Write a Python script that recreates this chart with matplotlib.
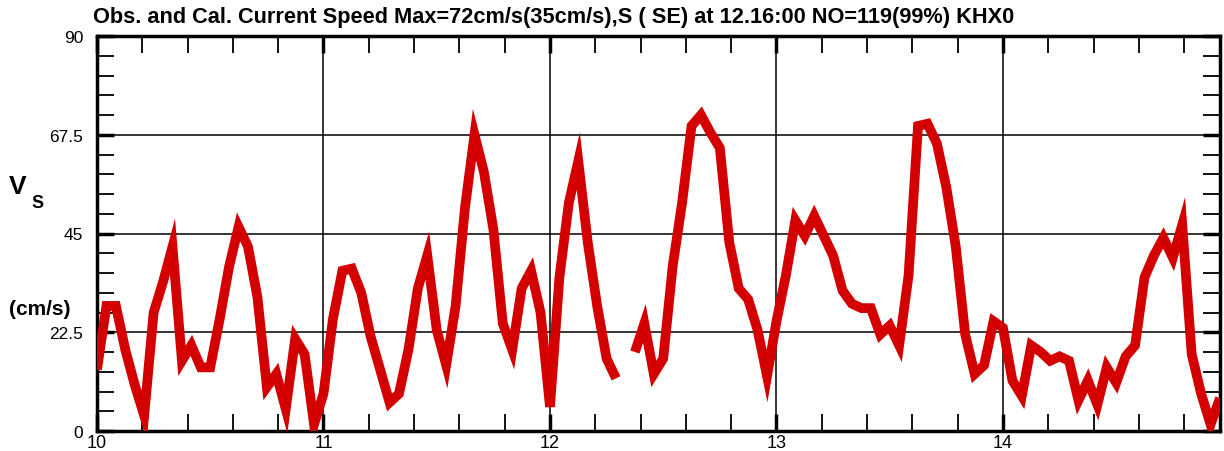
import numpy as np
import matplotlib
matplotlib.use("Agg")
import matplotlib.pyplot as plt
from matplotlib.ticker import MultipleLocator

plt.rcParams['font.family'] = ['Liberation Sans', 'DejaVu Sans']

# hourly current speed (cm/s), day 10 00:00 onward; nan = missing record
speed = [14, 28.5, 28.5, 18.5, 10.5, 3.5, 27, 34, 42, 16,
         19.5, 14.5, 14.5, 25.5, 37.5, 46.5, 42, 30.5, 10, 13,
         5, 21, 17.5, 1.5, 8.5, 25.5, 36.5, 37, 31.5, 21.5,
         14, 6.5, 8.5, 18.5, 32.5, 40, 23, 15, 28.5, 51,
         67.5, 59, 46, 24.5, 18.5, 32.5, 36.5, 27, 5.5, 35,
         52, 61.5, 43, 28.5, 16.5, 12, np.nan, 18, 24.5, 13,
         16.5, 37.5, 52, 69.5, 72, 68, 64.5, 43, 32.5, 30,
         23, 12.5, 25, 35.5, 48, 44.5, 49, 44.5, 40, 32,
         29, 28, 28, 22, 24, 19.5, 35.5, 69.5, 70, 65.5,
         55.5, 42, 22, 13, 15, 25, 23.5, 11.5, 8, 19.5,
         18, 16, 17, 16, 7, 11.5, 6, 14.5, 11, 17,
         19.5, 35, 40, 44, 39.5, 47, 17.5, 8.5, 1.5, 7.5]
start_day = 10
day = start_day + np.arange(len(speed)) / 24.0

yticks = [0, 22.5, 45, 67.5, 90]
ytick_labels = ['0', '22.5', '45', '67.5', '90']
xticks = [10, 11, 12, 13, 14]

title = "Obs. and Cal. Current Speed Max=72cm/s(35cm/s),S ( SE) at 12.16:00 NO=119(99%) KHX0"

fig = plt.figure(figsize=(12.24, 4.52), dpi=100)
ax = fig.add_axes([97/1224, 20/452, (1220-97)/1224, (432-37)/452])

ax.plot(day, speed, color='#d40000', lw=7.0, solid_joinstyle='miter',
        solid_capstyle='butt', zorder=3)

ax.set_xlim(10, day[-1])
ax.set_ylim(0, 90)
ax.set_xticks(xticks)
ax.set_yticks(yticks)
ax.set_yticklabels(ytick_labels)
ax.xaxis.set_minor_locator(MultipleLocator(0.2))
ax.yaxis.set_minor_locator(MultipleLocator(4.5))
ax.grid(True, which='major', color='black', lw=1.1, zorder=1)

ax.tick_params(which='both', direction='in', top=True, right=True,
               length=12, width=1.3, color='black')
ax.tick_params(which='major', width=2.5)
ax.tick_params(axis='y', which='major', pad=10, labelsize=12.5)
ax.tick_params(axis='x', which='major', pad=2, labelsize=13)
for s in ax.spines.values():
    s.set_linewidth(2.5)

fig.text(93/1224, 1 - 17/452, title, fontsize=15.7, fontweight='bold',
         ha='left', va='center')
fig.text(9/1224, 1 - 187/452, 'V', fontsize=19, fontweight='bold',
         ha='left', va='center')
fig.text(31/1224, 1 - 204/452, 'S', fontsize=13, fontweight='bold',
         ha='left', va='center')
fig.text(9/1224, 1 - 310/452, '(cm/s)', fontsize=15, fontweight='bold',
         ha='left', va='center')

fig.savefig('out.png', dpi=100)
